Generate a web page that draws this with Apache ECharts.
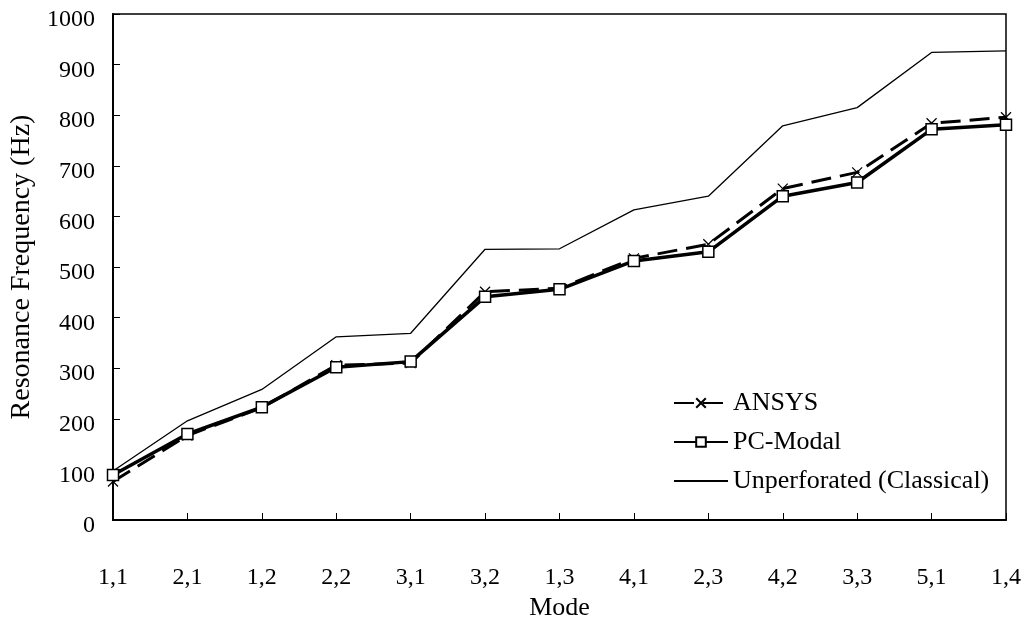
<!DOCTYPE html>
<html>
<head>
<meta charset="utf-8">
<script src="https://cdn.jsdelivr.net/npm/echarts@6/dist/echarts.min.js"></script>
<style>
  html, body { margin: 0; padding: 0; background: #fff; overflow: hidden; }
  #chart { width: 1034px; height: 622px; }
</style>
</head>
<body>
<div id="chart"></div>
<script>
// Plate vibration modes (m,n)
const modes = ['1,1', '2,1', '1,2', '2,2', '3,1', '3,2', '1,3', '4,1', '2,3', '4,2', '3,3', '5,1', '1,4'];

// Resonance frequencies in Hz
const ansys        = [76, 167, 222, 306, 310, 451, 458, 517, 545, 655, 687, 784, 796];
const pcModal      = [89, 170, 223, 302, 313, 441, 456, 512, 530, 640, 667, 772, 781];
const unperforated = [97, 196, 258, 362, 369, 535, 536, 613, 640, 779, 815, 924, 927];

const yTicks = [0, 100, 200, 300, 400, 500, 600, 700, 800, 900, 1000];

const FONT = '"Liberation Serif", "Times New Roman", serif';
const crossSymbol = 'path://M0,0L10,10M10,0L0,10';

const chart = echarts.init(document.getElementById('chart'), null, { renderer: 'canvas' });

chart.setOption({
  backgroundColor: '#fff',
  animation: false,
  textStyle: { fontFamily: FONT, color: '#000' },
  grid: {
    left: 113, right: 28, top: 14, bottom: 102,
    outerBoundsMode: 'none',
    containLabel: false,
    show: true, borderColor: '#000', borderWidth: 1.5, backgroundColor: 'transparent'
  },
  legend: {
    orient: 'vertical',
    left: 668, top: 385,
    itemWidth: 54, itemHeight: 12, itemGap: 13,
    textStyle: { fontFamily: FONT, fontSize: 26, color: '#000' },
    data: [
      { name: 'ANSYS' },
      { name: 'PC-Modal' },
      { name: 'Unperforated (Classical)', itemStyle: { opacity: 0 } }
    ]
  },
  xAxis: {
    type: 'category',
    data: modes,
    boundaryGap: false,
    name: 'Mode',
    nameLocation: 'middle',
    nameGap: 72,
    nameTextStyle: { fontFamily: FONT, fontSize: 26, color: '#000' },
    axisLine: { lineStyle: { color: '#000', width: 2 } },
    axisTick: { inside: true, length: 7, lineStyle: { color: '#000', width: 1 }, alignWithLabel: true },
    axisLabel: { margin: 46, fontFamily: FONT, fontSize: 24, color: '#000', interval: 0 },
    splitLine: { show: false }
  },
  yAxis: {
    type: 'value',
    min: yTicks[0], max: yTicks[yTicks.length - 1], interval: 100,
    name: 'Resonance Frequency (Hz)',
    nameLocation: 'middle',
    nameGap: 76,
    nameTextStyle: { fontFamily: FONT, fontSize: 28, color: '#000' },
    axisLine: { show: true, lineStyle: { color: '#000', width: 2 } },
    axisTick: { show: true, inside: true, length: 7, lineStyle: { color: '#000', width: 1 } },
    axisLabel: {
      margin: 18, fontFamily: FONT, fontSize: 24, color: '#000',
      verticalAlign: 'top', lineHeight: 12,
      formatter: v => String(v)
    },
    splitLine: { show: false }
  },
  series: [
    {
      name: 'ANSYS',
      type: 'line',
      data: ansys,
      symbol: crossSymbol,
      symbolSize: 10,
      showAllSymbol: true,
      lineStyle: { color: '#000', width: 3, type: [20, 9] },
      itemStyle: { color: 'transparent', borderColor: '#000', borderWidth: 1.2 },
      z: 3
    },
    {
      name: 'PC-Modal',
      type: 'line',
      data: pcModal,
      symbol: 'rect',
      symbolSize: 11,
      showAllSymbol: true,
      lineStyle: { color: '#000', width: 3.5 },
      itemStyle: { color: '#fff', borderColor: '#000', borderWidth: 1.5 },
      z: 4
    },
    {
      name: 'Unperforated (Classical)',
      type: 'line',
      data: unperforated,
      symbol: 'none',
      lineStyle: { color: '#000', width: 1.3 },
      itemStyle: { color: '#000' },
      z: 2
    }
  ]
});
</script>
</body>
</html>
